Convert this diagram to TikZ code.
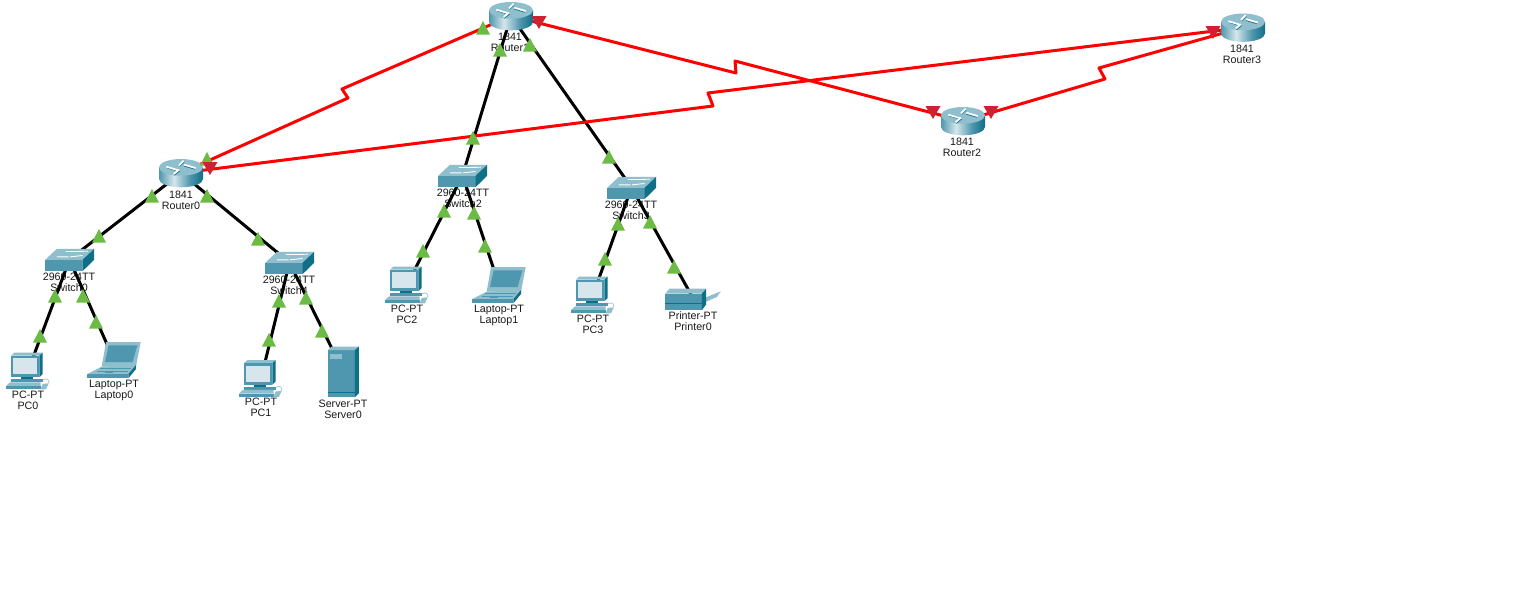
\documentclass[tikz,border=0pt]{standalone}
\usepackage{fontspec}
\setmainfont{Liberation Sans}
\definecolor{ciscoFront}{HTML}{4F97AE}
\definecolor{ciscoTop}{HTML}{8FBECC}
\definecolor{ciscoSide}{HTML}{0E6F87}
\definecolor{ciscoLight}{HTML}{D6E6EC}
\definecolor{linkRed}{HTML}{FF0000}
\definecolor{mkGreen}{HTML}{6CBB45}
\definecolor{mkRed}{HTML}{CC2233}
\pgfdeclarehorizontalshading{routerbody}{100bp}{color(0bp)=(ciscoFront);color(25bp)=(ciscoFront);color(42bp)=(ciscoLight);color(60bp)=(ciscoFront);color(75bp)=(ciscoSide);color(100bp)=(ciscoSide)}
\tikzset{
  dev/.style={inner sep=0pt,minimum size=0pt},
  devlabel/.style={inner sep=0pt,align=center,text=black!90,font=\fontsize{10.7}{11}\selectfont},
  wire/.style={line width=3pt,black},
  serial/.style={line width=3pt,linkRed,line join=round},
  blade/.style={white,line width=1.7pt},
  bladeshade/.style={ciscoSide,line width=.7pt},
  zoomed/.style={x=.3333pt,y=-.3333pt},
  pics/router/.style={code={
    \begin{scope}[zoomed,shift={(-66,-42)}]
      \path[shading=routerbody] (0,25) -- (0,60) arc[start angle=180,end angle=0,x radius=66,y radius=25] -- (132,25) -- cycle;
      \fill[ciscoTop] (66,25) ellipse[x radius=66,y radius=25];
      \draw[bladeshade] (25,27) -- (58,37) (75,21) -- (108,31) (62,22) -- (76,8) (62,36) -- (46,49);
      \draw[blade] (22,23) -- (55,33) (76,17) -- (110,27) (60,19) -- (74,5) (60,32) -- (44,45);
    \end{scope}}},
  pics/switchbox/.style={code={
    \begin{scope}[zoomed,shift={(-73,-34)}]
      \fill[ciscoFront] (0,35) rectangle (112,69);
      \fill[ciscoTop] (0,35) -- (112,35) -- (147,2) -- (35,2) -- cycle;
      \fill[ciscoSide] (112,35) -- (147,2) -- (147,35) -- (112,69) -- cycle;
      \draw[white,line width=.9pt] (35,26) -- (70,26) (62,10) -- (95,10) (75,26) -- (112,22) (95,10) -- (128,9);
    \end{scope}}},
  pics/pcbox/.style={code={
    \begin{scope}[zoomed,shift={(-84,-663)}]
      \fill[ciscoTop] (33,617) -- (43,608) -- (128,608) -- (118,617) -- cycle;
      \fill[ciscoSide] (118,617) -- (128,608) -- (128,672) -- (118,682) -- cycle;
      \fill[ciscoFront] (33,617) rectangle (118,682);
      \fill[ciscoLight] (40,625) rectangle (112,672);
      \fill[ciscoSide] (62,682) rectangle (100,690);
      \fill[ciscoFront] (33,688) -- (128,688) -- (128,696) -- (33,696) -- cycle;
      \fill[ciscoTop] (30,697) -- (122,697) -- (122,708) -- (18,708) -- cycle;
      \fill[ciscoFront] (18,708) rectangle (122,718);
      \draw[ciscoTop,line width=.6pt] (128,690) .. controls (140,682) and (150,690) .. (146,700);
      \fill[ciscoTop] (128,702) -- (146,700) -- (138,718) -- (122,718) -- cycle;
    \end{scope}}},
  pics/laptopbox/.style={code={
    \begin{scope}[zoomed,shift={(-342,-630)}]
      \fill[ciscoTop] (318,576) -- (422,576) -- (408,650) -- (305,650) -- cycle;
      \fill[ciscoFront] (326,586) -- (412,586) -- (398,636) -- (315,636) -- cycle;
      \fill[ciscoTop] (305,650) -- (408,645) -- (385,672) -- (262,672) -- cycle;
      \fill[ciscoSide] (385,672) -- (408,645) -- (408,657) -- (385,685) -- cycle;
      \fill[ciscoFront] (262,672) rectangle (385,685);
      \draw[ciscoFront,line width=.7pt] (300,656) -- (392,656) (290,664) -- (385,664) (315,668) -- (340,668);
    \end{scope}}},
  pics/serverbox/.style={code={
    \begin{scope}[zoomed,shift={(-1031,-666)}]
      \fill[ciscoFront] (985,600) rectangle (1065,742);
      \fill[ciscoTop] (985,600) -- (995,590) -- (1077,590) -- (1065,600) -- cycle;
      \fill[ciscoSide] (1065,600) -- (1077,590) -- (1077,730) -- (1065,742) -- cycle;
      \fill[ciscoTop] (990,613) rectangle (1026,627);
      \draw[ciscoSide,line width=.5pt] (985,728) -- (1065,728);
    \end{scope}}},
  pics/printerbox/.style={code={
    \begin{scope}[zoomed,shift={(-940,-896)}]
      \fill[ciscoTop] (972,893) -- (1022,873) -- (1010,890) -- (975,905) -- cycle;
      \fill[ciscoFront] (855,880) rectangle (965,930);
      \fill[ciscoTop] (855,880) -- (868,865) -- (978,865) -- (965,880) -- cycle;
      \fill[ciscoSide] (965,880) -- (978,865) -- (978,912) -- (965,930) -- cycle;
      \draw[ciscoSide,line width=.7pt] (855,908) -- (965,908);
    \end{scope}}},
  pics/upmark/.style={code={\fill[mkGreen] (0,-7) -- (7,6.5) -- (-7,6.5) -- cycle;}},
  pics/downmark/.style={code={\fill[mkRed] (0,7) -- (7.5,-6) -- (-7.5,-6) -- cycle;}}
}
\begin{document}
\begin{tikzpicture}[x=1pt,y=-1pt]
\useasboundingbox (0,0) rectangle (1538,597);
\fill[white] (0,0) rectangle (1538,597);
% device anchors
\node[dev] (R0) at (181,173) {};
\node[dev] (R1) at (511,16) {};
\node[dev] (R2) at (963,121) {};
\node[dev] (R3) at (1243,27.5) {};
\node[dev] (S0) at (69.5,259.5) {};
\node[dev] (S4) at (289.5,262.5) {};
\node[dev] (S2) at (462.5,175.5) {};
\node[dev] (S3) at (631.5,187.5) {};
\node[dev] (P0) at (28,371) {};
\node[dev] (P1) at (261,378.5) {};
\node[dev] (P2) at (407,285) {};
\node[dev] (P3) at (593,295) {};
\node[dev] (L0) at (114,360) {};
\node[dev] (L1) at (499,285) {};
\node[dev] (V0) at (343.5,372) {};
\node[dev] (N0) at (693.5,299) {};
% labels
\node[devlabel] (lR0) at (181,200) {1841\\Router0};
\node[devlabel] (lR1) at (510,42) {1841\\Router1};
\node[devlabel] (lR2) at (962,147) {1841\\Router2};
\node[devlabel] (lR3) at (1242,54) {1841\\Router3};
\node[devlabel] (lS0) at (69,282) {2960-24TT\\Switch0};
\node[devlabel] (lS4) at (289,285) {2960-24TT\\Switch4};
\node[devlabel] (lS2) at (463,198) {2960-24TT\\Switch2};
\node[devlabel] (lS3) at (631,210) {2960-24TT\\Switch3};
\node[devlabel] (lP0) at (28,400) {PC-PT\\PC0};
\node[devlabel] (lP1) at (261,407.5) {PC-PT\\PC1};
\node[devlabel] (lP2) at (407,314) {PC-PT\\PC2};
\node[devlabel] (lP3) at (593,324) {PC-PT\\PC3};
\node[devlabel] (lL0) at (114,390) {Laptop-PT\\Laptop0};
\node[devlabel] (lL1) at (499,315) {Laptop-PT\\Laptop1};
\node[devlabel] (lV0) at (343,409) {Server-PT\\Server0};
\node[devlabel] (lN0) at (693,321) {Printer-PT\\Printer0};
% copper links
\draw[wire] (R0.center) -- (S0.center);
\draw[wire] (R0.center) -- (S4.center);
\draw[wire] (R1.center) -- (S2.center);
\draw[wire] (R1.center) -- (S3.center);
\draw[wire] (S0.center) -- (P0.center);
\draw[wire] (S0.center) -- (L0.center);
\draw[wire] (S4.center) -- (P1.center);
\draw[wire] (S4.center) -- (V0.center);
\draw[wire] (S2.center) -- (P2.center);
\draw[wire] (S2.center) -- (L1.center);
\draw[wire] (S3.center) -- (P3.center);
\draw[wire] (S3.center) -- (N0.center);
% serial links
\coordinate (j1a) at (348,98); \coordinate (j1b) at (342,89);
\coordinate (j2a) at (736,73); \coordinate (j2b) at (735,61);
\coordinate (j3a) at (713,106); \coordinate (j3b) at (708,93);
\coordinate (j4a) at (1105,79); \coordinate (j4b) at (1099,68);
\draw[serial] (R0.center) -- (j1a) -- (j1b) -- (R1.center);
\draw[serial] (R1.center) -- (j2a) -- (j2b) -- (R2.center);
\draw[serial] (R0.center) -- (j3a) -- (j3b) -- (R3.center);
\draw[serial] (R2.center) -- (j4a) -- (j4b) -- (R3.center);
% icons
\foreach \n in {R0,R1,R2,R3} \pic at (\n) {router};
\foreach \n in {S0,S4,S2,S3} \pic at (\n) {switchbox};
\foreach \n in {P0,P1,P2,P3} \pic at (\n) {pcbox};
\foreach \n in {L0,L1} \pic at (\n) {laptopbox};
\pic at (V0) {serverbox};
\pic at (N0) {printerbox};
% link state marks
\foreach \x/\y in {152/196,207/196,207/159,99/236,258/239,55/296,83/296,40/336,96/322,279/301,306/298,269/340,322/331,483/28,500/50,530/45,473/138,609/157,444/211,474/213,423/251,485/246,618/224,650/222,605/259,674/267}
  \pic at (\x,\y) {upmark};
\foreach \x/\y in {210/168,539/22,933/112,991/112,1213/32}
  \pic at (\x,\y) {downmark};
\end{tikzpicture}
\end{document}
